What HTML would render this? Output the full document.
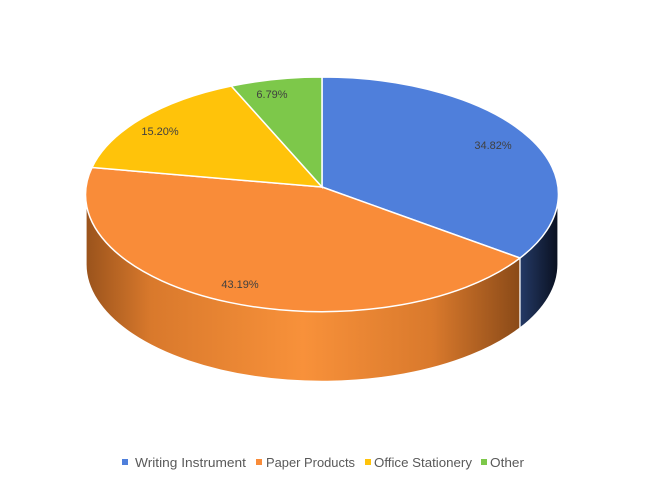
<!DOCTYPE html>
<html><head><meta charset="utf-8"><style>
html,body{margin:0;padding:0;background:#fff;}
svg{display:block;font-family:"Liberation Sans",sans-serif;}
</style></head><body>
<svg width="647" height="483" viewBox="0 0 647 483" xmlns="http://www.w3.org/2000/svg">
<defs>
<linearGradient id="og" x1="86" y1="0" x2="520" y2="0" gradientUnits="userSpaceOnUse">
<stop offset="0" stop-color="#9a531c"/>
<stop offset="0.15" stop-color="#d9792c"/>
<stop offset="0.5" stop-color="#f8913a"/>
<stop offset="0.8" stop-color="#d9792c"/>
<stop offset="1" stop-color="#8a4a18"/>
</linearGradient>
<linearGradient id="bg" x1="520" y1="0" x2="558" y2="0" gradientUnits="userSpaceOnUse">
<stop offset="0" stop-color="#243a66"/>
<stop offset="1" stop-color="#0a1020"/>
</linearGradient>
</defs>
<rect width="647" height="483" fill="#fff"/>
<path d="M86,194 A236,117 0 0 0 520,258 L520,328 A236,117 0 0 1 86,264 Z" fill="url(#og)" stroke="#fff" stroke-width="1.2"/>
<path d="M520,258 A236,117 0 0 0 558,194 L558,264 A236,117 0 0 1 520,328 Z" fill="url(#bg)" stroke="#fff" stroke-width="1.2"/>
<path d="M322,187 L322,77 A236,117 0 0 1 520,258 Z" fill="#4f7fdb" stroke="#fff" stroke-width="1.5"/>
<path d="M322,187 L520,258 A236,117 0 0 1 92,167.5 Z" fill="#f98c39" stroke="#fff" stroke-width="1.5"/>
<path d="M322,187 L92,167.5 A236,117 0 0 1 231.3,86 Z" fill="#ffc30a" stroke="#fff" stroke-width="1.5"/>
<path d="M322,187 L231.3,86 A236,117 0 0 1 322,77 Z" fill="#7dc84a" stroke="#fff" stroke-width="1.5"/>
<g font-size="11" fill="#404040" text-anchor="middle">
<text x="493" y="149">34.82%</text>
<text x="240" y="288">43.19%</text>
<text x="160" y="135">15.20%</text>
<text x="272" y="98">6.79%</text>
</g>
<g font-size="12.5" fill="#595959">
<rect x="122" y="459" width="6" height="6" fill="#4f7fdb"/>
<text x="135" y="467" textLength="111" lengthAdjust="spacingAndGlyphs">Writing Instrument</text>
<rect x="256" y="459" width="6" height="6" fill="#f98c39"/>
<text x="266" y="467" textLength="89" lengthAdjust="spacingAndGlyphs">Paper Products</text>
<rect x="365" y="459" width="6" height="6" fill="#ffc30a"/>
<text x="374" y="467" textLength="98" lengthAdjust="spacingAndGlyphs">Office Stationery</text>
<rect x="481" y="459" width="6" height="6" fill="#7dc84a"/>
<text x="490" y="467" textLength="34" lengthAdjust="spacingAndGlyphs">Other</text>
</g>
</svg>
</body></html>
